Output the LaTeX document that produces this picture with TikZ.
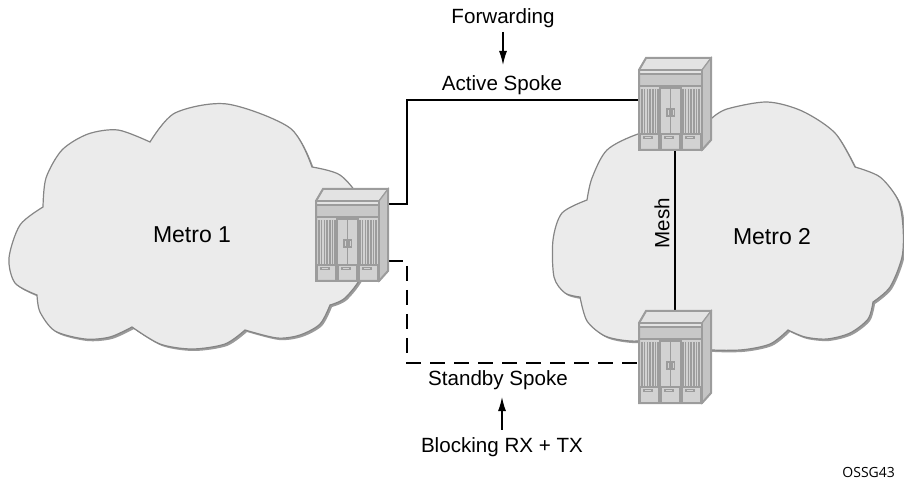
\documentclass[tikz,border=0pt]{standalone}
\usepackage{fontspec}
\setmainfont{Liberation Sans}
\newfontfamily\tagfont{Open Sans}
\usepackage{tikz}
\usetikzlibrary{positioning}
\usetikzlibrary{calc}
\usetikzlibrary{arrows.meta}

\definecolor{cloudgray}{HTML}{EBEBEB}
\definecolor{cloudedge}{HTML}{858585}
\definecolor{cloudshade}{HTML}{9A9A9A}
\definecolor{routerfill}{HTML}{D2D2D2}
\definecolor{routertop}{HTML}{E3E3E3}
\definecolor{routerside}{HTML}{C4C4C4}
\definecolor{routeredge}{HTML}{9C9C9C}
\definecolor{routerband}{HTML}{C8C8C8}

\tikzset{
    metro/.style={fill=cloudgray, draw=cloudedge, line width=0.6pt,
        preaction={fill=cloudshade, transform canvas={xshift=1pt,yshift=-1pt}}},
    routerbody/.style={minimum width=36pt, minimum height=40pt, inner sep=0pt},
    rline/.style={draw=routeredge, line width=0.6pt},
    spoke/.style={line width=1.1pt},
    pointer/.style={line width=0.6pt, -{Latex[length=7pt,width=4pt]}},
    tag/.style={inner sep=0pt, font=\fontsize{10.3}{12}\selectfont},
    metrotag/.style={inner sep=0pt, font=\fontsize{11.5}{14}\selectfont}
}

% router: name, x and y of the front top left corner
\newcommand\router[3]{%
    \node[routerbody] (#1) at (#2+36,#3+40) {};
    \begin{scope}[shift={(#2,#3)}]
        \fill[routertop, rline] (0,0) -- (7,-12) -- (72,-12) -- (63,0) -- cycle;
        \fill[routerside, rline] (63,0) -- (72,-12) -- (72,70) -- (63,80) -- cycle;
        \fill[routerfill, rline] (0,0) rectangle (63,80);
        \fill[routertop, rline] (0,0) rectangle (63,4);
        \fill[routerband, rline] (0,4) rectangle (63,16);
        \foreach \sx in {3,5.7,...,20} \draw[rline, line width=0.75pt] (\sx,19) -- (\sx,63);
        \foreach \sx in {44,46.7,...,61} \draw[rline, line width=0.75pt] (\sx,19) -- (\sx,63);
        \draw[rline] (21,18) rectangle (31.5,64) (31.5,18) rectangle (42,64);
        \draw[rline] (28,39) rectangle (30.5,46) (33,39) rectangle (35.5,46);
        \foreach \dx in {0,21,42} {
            \draw[rline] (\dx+1,64) rectangle (\dx+20,80);
            \draw[rline] (\dx+5,66.5) rectangle (\dx+13,68.5);
        }
        \draw[routeredge, line width=1pt] (0,80) -- (0,0) -- (7,-12) -- (72,-12) -- (72,70) -- (63,80) -- cycle;
    \end{scope}}

\begin{document}
\begin{tikzpicture}[x=0.5pt, y=-0.5pt]
    \useasboundingbox (0,0) rectangle (904,480);

    % clouds
    \path[metro] plot[smooth] coordinates {(37,295) (15,283) (9,258) (20,225) (43,207)}
        -- plot[smooth] coordinates {(43,207) (46,178) (62,150) (88,134) (118,130) (150,142)}
        -- plot[smooth] coordinates {(150,142) (175,113) (227,104) (290,128) (312,167)}
        -- plot[smooth] coordinates {(312,167) (340,175) (360,200) (368,240) (362,275) (345,298) (330,305)}
        -- plot[smooth] coordinates {(330,305) (320,324) (300,335) (277,338) (245,330)}
        -- plot[smooth] coordinates {(245,330) (225,344) (192,349) (160,344) (132,327)}
        -- plot[smooth] coordinates {(132,327) (110,337) (85,339) (55,331) (40,312) (37,295)} -- cycle;
    \path[metro] plot[smooth] coordinates {(580,297) (565,293) (554,277) (553,240) (562,213) (587,200)}
        -- plot[smooth] coordinates {(587,200) (592,178) (607,150) (638,134) (680,124) (712,118)}
        -- plot[smooth] coordinates {(712,118) (727,109) (767,102) (802,111) (835,133) (855,167)}
        -- plot[smooth] coordinates {(855,167) (880,177) (898,200) (903,227) (902,257) (890,287) (873,302)}
        -- plot[smooth] coordinates {(873,302) (868,319) (850,333) (827,339) (805,337) (788,330)}
        -- plot[smooth] coordinates {(788,330) (770,344) (740,350) (700,349) (660,340)}
        -- plot[smooth] coordinates {(660,340) (630,341) (605,336) (587,321) (580,297)} -- cycle;

    \node[metrotag] (m1) at (192,235) {Metro 1};
    \node[metrotag] (m2) at (772,237) {Metro 2};

    % connections
    \coordinate (r1east) at (388,241);
    \coordinate (r2west) at (639,110);
    \coordinate (r3west) at (639,363);
    \draw[spoke] ([yshift=18.5pt]r1east) -- ++(19,0) |- ([yshift=5pt]r2west);
    \draw[spoke, dash pattern=on 7.5pt off 4.5pt] ([yshift=-10pt]r1east) -- ++(19,0) |- (r3west);
    \draw[spoke] (675,150) -- (675,323);

    \router{r1}{316}{201}
    \router{r2}{639}{70}
    \router{r3}{639}{323}

    % labels
    \node[tag] (fwd) at (503,18) {Forwarding};
    \node[tag] (act) at (502,85) {Active Spoke};
    \node[tag] (stb) at (498,380) {Standby Spoke};
    \node[tag] (blk) at (502,447) {Blocking RX + TX};
    \node[tag, rotate=90] (mesh) at (662,223) {Mesh};
    \node[inner sep=0pt, anchor=west, font=\tagfont\fontsize{7}{8}\selectfont] (fig) at (842,472) {OSSG43};

    \draw[pointer, shorten <=2pt, shorten >=5pt] (fwd.south) -- (fwd.south |- act.north);
    \draw[pointer, shorten <=3.5pt, shorten >=3.5pt] (blk.north) -- (blk.north |- stb.south);
\end{tikzpicture}
\end{document}
